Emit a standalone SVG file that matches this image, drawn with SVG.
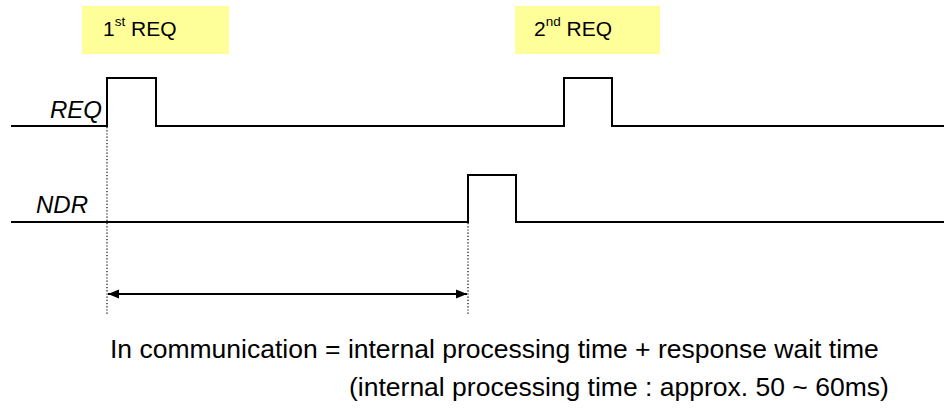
<svg xmlns="http://www.w3.org/2000/svg" width="944" height="410" viewBox="0 0 944 410">
<style>
.box{fill:#FFFF99;stroke:none}
.sig{fill:none;stroke:#000;stroke-width:2}
.dot{fill:none;stroke:#000;stroke-width:1.2;stroke-dasharray:1.2 2}
.lbl{font-family:"Liberation Sans",Arial,sans-serif;font-size:21px;fill:#000}
.sup{font-size:13.5px}
.sig-lbl{font-family:"Liberation Sans",Arial,sans-serif;font-size:24px;font-style:italic;fill:#000}
.note{font-family:"Liberation Sans",Arial,sans-serif;font-size:26.5px;fill:#000}
</style>
<defs>
<marker id="ah" viewBox="0 0 11 10" refX="11" refY="5" markerWidth="11" markerHeight="10" markerUnits="userSpaceOnUse" orient="auto-start-reverse">
<path d="M0,0.5 L11,5 L0,9.5 Z" fill="#000"/>
</marker>
</defs>
<rect width="944" height="410" fill="#fff"/>
<g id="req1">
<rect class="box" x="82" y="6" width="147" height="48"/>
<text class="lbl" x="103" y="36">1<tspan class="sup" dy="-10.5">st</tspan><tspan dy="10.5"> REQ</tspan></text>
</g>
<g id="req2">
<rect class="box" x="515" y="6" width="145" height="48"/>
<text class="lbl" x="534" y="36">2<tspan class="sup" dy="-10.5">nd</tspan><tspan dy="10.5"> REQ</tspan></text>
</g>
<g id="req-signal">
<text class="sig-lbl" x="102" y="118" text-anchor="end">REQ</text>
<polyline class="sig" points="11,126 107,126 107,78 156,78 156,126 564,126 564,78 612,78 612,126 944,126"/>
</g>
<g id="ndr-signal">
<text class="sig-lbl" x="88" y="213" text-anchor="end">NDR</text>
<polyline class="sig" points="11,222 468,222 468,175 516,175 516,222 944,222"/>
</g>
<g id="connectors">
<line class="dot" x1="107" y1="127" x2="107" y2="314"/>
<line class="dot" x1="468" y1="223" x2="468" y2="314"/>
<line x1="108" y1="294" x2="467" y2="294" stroke="#000" stroke-width="2" marker-start="url(#ah)" marker-end="url(#ah)"/>
</g>
<g id="note">
<text class="note" x="110" y="358">In communication = internal processing time + response wait time</text>
<text class="note" x="349" y="396">(internal processing time : approx. 50 ~ 60ms)</text>
</g>
</svg>
